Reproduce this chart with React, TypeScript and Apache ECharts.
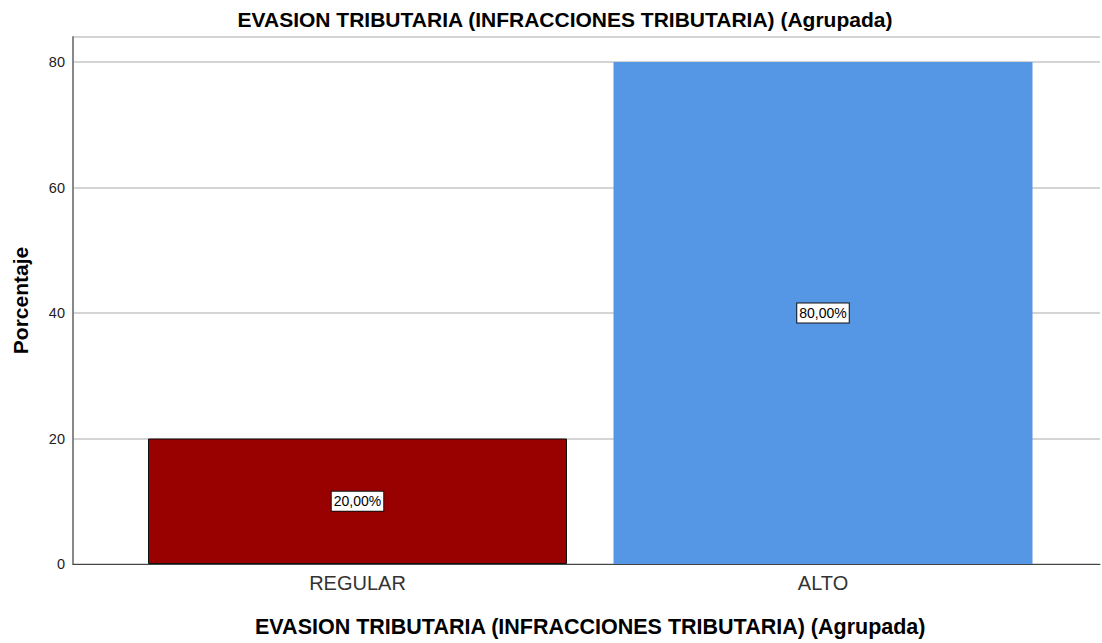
import React, { useEffect, useRef } from "react";
import * as echarts from "echarts";

const categories = ["REGULAR", "ALTO"];
const values = [20, 80];
const barColors = ["#990000", "#5596e5"];
const titleText = "EVASION TRIBUTARIA (INFRACCIONES TRIBUTARIA) (Agrupada)";
const yName = "Porcentaje";

export default function App() {
  const ref = useRef<HTMLDivElement>(null);
  useEffect(() => {
    if (!ref.current) return;
    const chart = echarts.init(ref.current, null, { renderer: "svg" });
    const font = "Liberation Sans, Arial, sans-serif";
    const top = 37;
    const bottom = 79;
    chart.setOption({
      animation: false,
      backgroundColor: "#ffffff",
      textStyle: { fontFamily: font },
      title: {
        text: titleText,
        left: 560,
        top: 4,
        textAlign: "center",
        textStyle: { fontSize: 21, fontWeight: "bold", color: "#000", fontFamily: font },
      },
      grid: [
        { left: 73, right: 2, top, bottom },
        { left: 124.75, width: 931, top, bottom },
      ],
      xAxis: [
        {
          type: "value",
          gridIndex: 0,
          min: 0,
          max: 1,
          axisLabel: { show: false },
          axisTick: { show: false },
          splitLine: { show: false },
          axisLine: { show: true, lineStyle: { color: "#444", width: 1 } },
        },
        {
          type: "category",
          gridIndex: 1,
          data: categories,
          axisLine: { show: false },
          axisTick: { show: false },
          axisLabel: { fontSize: 20, color: "#333", margin: 9, fontFamily: font },
          name: titleText,
          nameLocation: "middle",
          nameGap: 52,
          nameTextStyle: { fontSize: 21.5, fontWeight: "bold", color: "#000", fontFamily: font },
        },
      ],
      yAxis: [
        {
          type: "value",
          gridIndex: 0,
          min: 0,
          max: 84,
          interval: 20,
          axisLine: { show: true, lineStyle: { color: "#888", width: 2 } },
          axisTick: { show: false },
          axisLabel: {
            fontSize: 14.5,
            color: "#222",
            margin: 8,
            formatter: (v: number) => (v > 80 ? "" : String(v)),
          },
          splitLine: { show: true, lineStyle: { color: "#d4d4d4", width: 2 } },
          name: yName,
          nameLocation: "middle",
          nameGap: 42,
          nameTextStyle: { fontSize: 21, fontWeight: "bold", color: "#000", fontFamily: font },
        },
        {
          type: "value",
          gridIndex: 1,
          min: 0,
          max: 84,
          show: false,
          splitLine: { show: false },
        },
      ],
      series: [
        {
          type: "bar",
          xAxisIndex: 1,
          yAxisIndex: 1,
          barWidth: 419,
          data: values.map((v, i) => ({
            value: v,
            itemStyle: {
              color: barColors[i],
              borderColor: i === 0 ? "#111" : barColors[i],
              borderWidth: i === 0 ? 1 : 0,
            },
          })),
          label: {
            show: true,
            position: "inside",
            formatter: (p: any) => p.value.toFixed(2).replace(".", ",") + "%",
            backgroundColor: "#ffffff",
            borderColor: "#111",
            borderWidth: 1,
            padding: [3, 2, 2, 2],
            fontSize: 14,
            color: "#000",
            fontFamily: font,
          },
        },
      ],
    });
    return () => chart.dispose();
  }, []);
  return (
    <div
      ref={ref}
      style={{ position: "fixed", left: 0, top: 0, width: 1102, height: 643 }}
    />
  );
}
